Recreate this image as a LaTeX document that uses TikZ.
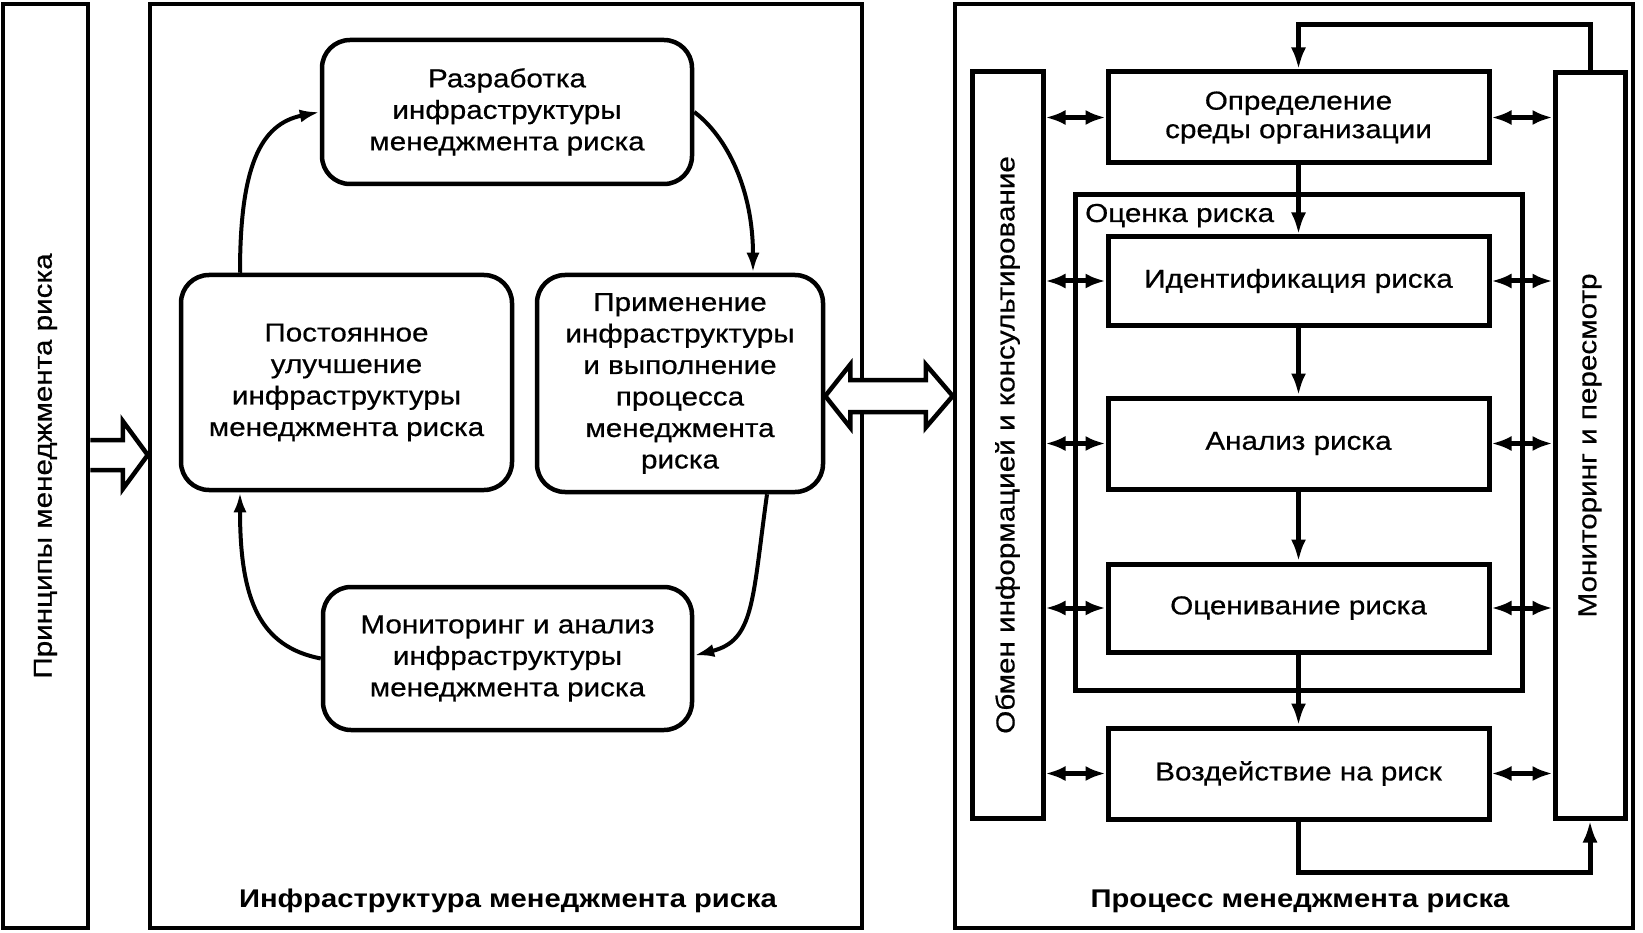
\documentclass[tikz,border=0pt]{standalone}
\usepackage{fontspec}
\setmainfont[FakeStretch=1.14,UprightFeatures={FakeBold=0.6}]{Liberation Sans}
\usetikzlibrary{arrows.meta,calc}
\begin{document}
\begin{tikzpicture}[x=1pt,y=-1pt,
  every node/.style={font=\fontsize{26}{31.5}\selectfont, inner sep=0pt},
  bigbox/.style={draw, line width=4.5pt},
  rbox/.style={draw, line width=4.5pt, rounded corners=28pt, align=center},
  pbox/.style={draw, line width=5pt, align=center, font=\fontsize{26}{28.5}\selectfont},
  curv/.style={line width=4pt, -{Latex[length=20pt,width=13pt]}},
  varr/.style={line width=5pt, -{Latex[length=22pt,width=15pt]}},
  harr/.style={line width=5pt, {Latex[length=20pt,width=15pt]}-{Latex[length=20pt,width=15pt]}},
  fat/.style={draw, line width=4.5pt, fill=white, line join=miter},
  title/.style={font=\bfseries\fontsize{25.6}{30}\selectfont}
]
\fill[white] (0,0) rectangle (1643,933);
\useasboundingbox (0,0) rectangle (1643,933);

% outer frames
\node[bigbox, minimum width=85pt, minimum height=924pt] (princ) at (45.5,466) {};
\node[rotate=90] (princT) at (princ.center) {Принципы менеджмента риска};
\node[bigbox, minimum width=712pt, minimum height=924pt] (infra) at (506,466) {};
\node[title, anchor=base] (infraT) at (508,907) {Инфраструктура менеджмента риска};
\node[bigbox, minimum width=678pt, minimum height=924pt] (proc) at (1294,466) {};
\node[title, anchor=base] (procT) at (1300,907) {Процесс менеджмента риска};

% infrastructure cycle
\node[rbox, minimum width=370pt, minimum height=144pt] (razr) at (507,112) {Разработка\\инфраструктуры\\менеджмента риска};
\node[rbox, minimum width=331pt, minimum height=215pt] (post) at (346.5,382.5) {Постоянное\\улучшение\\инфраструктуры\\менеджмента риска};
\node[rbox, minimum width=286pt, minimum height=217pt] (prim) at (680,383.5) {Применение\\инфраструктуры\\и выполнение\\процесса\\менеджмента\\риска};
\node[rbox, minimum width=369pt, minimum height=143pt] (monit) at (507.5,658.5) {Мониторинг и анализ\\инфраструктуры\\менеджмента риска};

\draw[curv] ($(post.north)+(-106.5,0)$) .. controls +(0,-105) and +(-60,12) .. (razr.west);
\draw[curv] (razr.east) .. controls +(33,25) and +(0,-83) .. ($(prim.north)+(73,0)$);
\draw[curv] ($(prim.south)+(87,0)$) .. controls +(-15,108) and +(60,-15) .. ($(monit.east)+(0,-3)$);
\draw[curv] (monit.west) .. controls +(-61,-12) and +(0,108) .. ($(post.south)+(-106.5,0)$);

% fat arrows
\coordinate (fa) at ($(princ.east)+(0,-11)$);
\coordinate (fb) at (infra.west |- fa);
\draw[fat] ($(fa)+(0,-15)$) -- ($(fb)+(-25,-15)$) -- ($(fb)+(-25,-34)$) -- (fb) -- ($(fb)+(-25,34)$) -- ($(fb)+(-25,15)$) -- ($(fa)+(0,15)$);

\coordinate (da) at ($(prim.east)+(0,12.5)$);
\coordinate (db) at (proc.west |- da);
\draw[fat] (da) -- ($(da)+(25,-31.5)$) -- ($(da)+(25,-16)$) -- ($(db)+(-27,-16)$) -- ($(db)+(-27,-31.5)$) -- (db) -- ($(db)+(-27,31.5)$) -- ($(db)+(-27,16)$) -- ($(da)+(25,16)$) -- ($(da)+(25,31.5)$) -- cycle;

% process
\node[pbox, minimum width=71pt, minimum height=746pt] (obmen) at (1007.5,445) {};
\node[rotate=90] (obmenT) at (obmen.center) {Обмен информацией и консультирование};
\node[pbox, minimum width=70pt, minimum height=745pt] (monp) at (1590,445.5) {};
\node[rotate=90] (monpT) at (monp.center) {Мониторинг и пересмотр};
\node[pbox, minimum width=447pt, minimum height=495pt] (ocenka) at (1298.5,442.5) {};
\node[anchor=base west] (ocenkaT) at (1085,222) {Оценка риска};
\node[pbox, minimum width=381pt, minimum height=91pt] (opred) at (1298.5,117.5) {Определение\\среды организации};
\node[pbox, minimum width=381pt, minimum height=88pt] (ident) at (1298.5,281) {Идентификация риска};
\node[pbox, minimum width=381pt, minimum height=91pt] (analiz) at (1298.5,443.5) {Анализ риска};
\node[pbox, minimum width=381pt, minimum height=88pt] (ocen) at (1298.5,608) {Оценивание риска};
\node[pbox, minimum width=381pt, minimum height=91pt] (vozd) at (1298.5,773.5) {Воздействие на риск};

\foreach \b in {opred,ident,analiz,ocen,vozd} {
  \draw[harr] (obmen.east |- \b.west) -- (\b.west);
  \draw[harr] (\b.east) -- (monp.west |- \b.east);
}
\draw[varr] (opred.south) -- (ident.north);
\draw[varr] (ident.south) -- (analiz.north);
\draw[varr] (analiz.south) -- (ocen.north);
\draw[varr] (ocen.south) -- (vozd.north);
\draw[varr] (monp.north) -- ++(0,-46) -| (opred.north);
\draw[varr] (vozd.south) -- ++(0,51) -| (monp.south);
\end{tikzpicture}
\end{document}
